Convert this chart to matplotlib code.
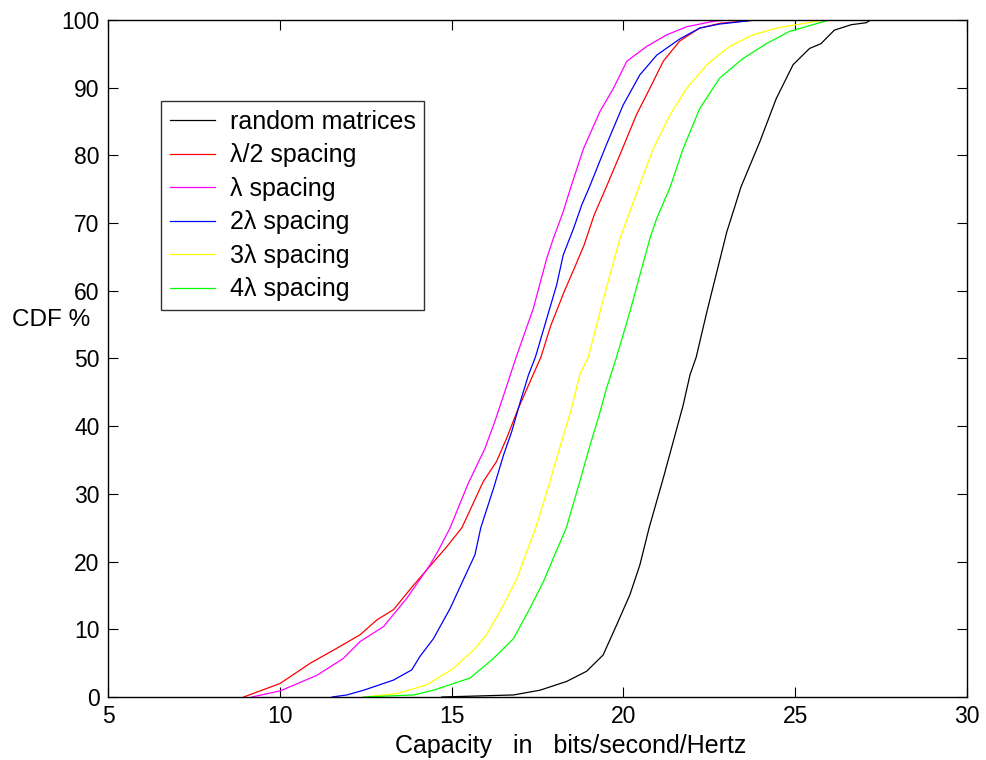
import matplotlib
matplotlib.use("Agg")
import matplotlib.pyplot as plt

# empirical CDFs of capacity (bits/s/Hz) vs. percentage
random_x = [14.72, 16.80, 17.57, 18.35, 18.93, 19.41, 19.80, 20.19, 20.48, 20.75,
            21.16, 21.45, 21.74, 21.94, 22.12, 22.43, 22.72, 23.01, 23.26, 23.42,
            23.97, 24.45, 24.94, 25.42, 25.75, 26.14, 26.63, 27.07, 27.20]
random_y = [0, 0.3, 1.0, 2.3, 3.8, 6.2, 10.6, 15.1, 19.5, 25.0,
            32.3, 37.7, 43.1, 47.6, 50.2, 56.9, 62.8, 68.7, 72.7, 75.3,
            82.0, 88.4, 93.4, 95.8, 96.5, 98.5, 99.3, 99.6, 100]

half_x = [8.95, 10.01, 10.89, 11.66, 12.34, 12.83, 13.31, 13.89, 14.86, 15.30,
          15.92, 16.31, 16.60, 16.94, 17.33, 17.60, 17.89, 18.28, 18.57, 18.86,
          19.15, 19.50, 19.90, 20.38, 20.77, 21.16, 21.64, 22.22, 22.80, 23.86]
half_y = [0, 2.0, 5.0, 7.2, 9.2, 11.4, 12.9, 16.5, 22.2, 25.0,
          31.8, 34.8, 38.2, 42.6, 47.1, 50.2, 54.9, 59.9, 63.3, 66.8,
          71.2, 75.3, 80.1, 86.0, 89.9, 93.9, 96.9, 98.8, 99.5, 100]

one_x = [9.19, 10.01, 11.08, 11.85, 12.34, 13.02, 13.70, 14.37, 14.62, 14.95,
         15.48, 15.97, 16.26, 16.55, 16.88, 17.38, 17.77, 17.96, 18.25, 18.47,
         18.84, 19.32, 19.71, 20.10, 20.68, 21.26, 21.84, 22.62, 23.00]
one_y = [0, 0.9, 3.2, 5.7, 8.2, 10.4, 14.6, 19.5, 21.7, 24.9,
         31.5, 36.7, 40.7, 45.1, 50.2, 57.4, 64.8, 67.7, 71.7, 75.3,
         81.0, 86.5, 89.9, 93.9, 96.1, 97.8, 99.0, 99.8, 100]

two_x = [11.52, 11.95, 12.44, 13.31, 13.84, 14.08, 14.47, 14.96, 15.25, 15.68,
         15.85, 16.22, 16.51, 16.75, 17.00, 17.24, 17.44, 17.77, 18.06, 18.25,
         18.55, 18.79, 19.01, 19.50, 19.99, 20.48, 20.97, 21.64, 22.22, 22.80, 23.86]
two_y = [0, 0.3, 1.0, 2.5, 4.0, 6.0, 8.6, 13.1, 16.3, 21.0,
         25.0, 30.8, 35.7, 39.2, 43.6, 47.6, 50.2, 55.9, 60.9, 65.3,
         69.2, 72.7, 75.3, 81.5, 87.4, 91.9, 94.8, 97.2, 98.8, 99.4, 100]

three_x = [12.44, 13.41, 14.28, 15.05, 15.63, 16.02, 16.51, 16.90, 17.19, 17.45,
           17.86, 18.20, 18.49, 18.73, 18.98, 19.32, 19.66, 19.90, 20.19, 20.45,
           20.87, 21.36, 21.84, 22.43, 23.09, 23.77, 24.45, 25.03, 25.61, 25.90]
three_y = [0, 0.5, 1.8, 4.2, 6.9, 9.2, 13.6, 17.5, 21.5, 25.0,
           31.8, 37.7, 42.6, 47.6, 50.2, 56.9, 63.3, 67.7, 71.7, 75.3,
           81.0, 86.0, 89.9, 93.4, 96.1, 97.8, 98.8, 99.3, 99.8, 100]

four_x = [12.44, 13.89, 14.47, 15.54, 16.22, 16.80, 17.28, 17.67, 17.96, 18.34,
          18.73, 19.03, 19.27, 19.51, 19.80, 20.19, 20.48, 20.77, 20.97, 21.36,
          21.74, 22.22, 22.80, 23.48, 24.16, 24.83, 25.51, 26.00]
four_y = [0, 0.3, 1.0, 2.8, 5.7, 8.6, 13.1, 17.0, 20.5, 25.0,
          31.8, 37.2, 41.2, 45.6, 50.2, 56.9, 62.3, 67.7, 70.7, 75.3,
          81.0, 86.9, 91.4, 94.3, 96.5, 98.3, 99.3, 100]

labels = ["random matrices", "\u03bb/2 spacing", "\u03bb spacing",
          "2\u03bb spacing", "3\u03bb spacing", "4\u03bb spacing"]
colors = ["#000000", "#ff0000", "#ff00ff", "#0000ff", "#ffff00", "#00ff00"]
x_ticks = [5, 10, 15, 20, 25, 30]
y_ticks = [0, 10, 20, 30, 40, 50, 60, 70, 80, 90, 100]

plt.rcParams["font.family"] = ["Liberation Sans", "DejaVu Sans"]

fig = plt.figure(figsize=(9.87, 7.6), dpi=100)
ax = fig.add_axes([0.1094, 0.0829, 0.8703, 0.8908])

series = [(random_x, random_y), (half_x, half_y), (one_x, one_y),
          (two_x, two_y), (three_x, three_y), (four_x, four_y)]
for (xs, ys), lab, col in zip(series, labels, colors):
    ax.plot(xs, ys, color=col, linewidth=0.9, label=lab)

ax.set_xlim(5, 30)
ax.set_ylim(0, 100)
ax.set_xticks(x_ticks)
ax.set_yticks(y_ticks)
ax.tick_params(direction="in", length=7, width=0.8, top=True, right=True,
               labelsize=16.5, pad=6)
for sp in ax.spines.values():
    sp.set_linewidth(1.0)

ax.set_xlabel("Capacity   in   bits/second/Hertz", fontsize=18,
              va="top", ha="center")
ax.xaxis.set_label_coords(0.539, -0.054)
ax.set_ylabel("CDF %", fontsize=17.5, rotation=0, ha="center", va="center")
ax.yaxis.set_label_coords(-0.066, 0.557)

leg = ax.legend(loc="upper left", bbox_to_anchor=(0.0617, 0.88), fontsize=18,
                frameon=True, fancybox=False, handlelength=1.8,
                handletextpad=0.6, labelspacing=0.38, borderpad=0.35,
                borderaxespad=0)
leg.get_frame().set_edgecolor("black")
leg.get_frame().set_linewidth(1.0)

fig.savefig("out.png", dpi=100)
